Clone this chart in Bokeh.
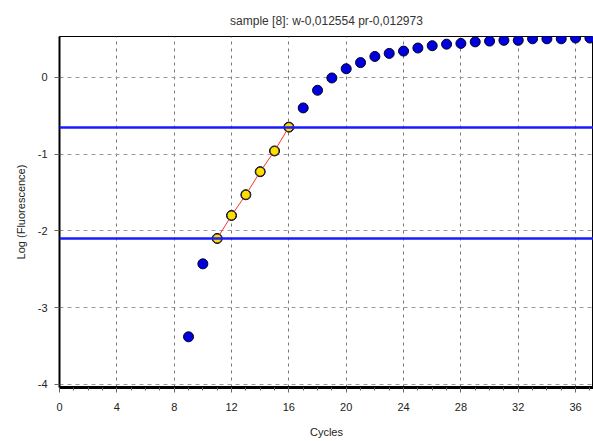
from bokeh.plotting import figure
from bokeh.models import Range1d, FixedTicker, Span, ColumnDataSource
from bokeh.embed import file_html
from bokeh.resources import INLINE

# Data
all_cycles = [9, 10, 11, 12, 13, 14, 15, 16, 17, 18, 19, 20, 21, 22, 23, 24, 25,
              26, 27, 28, 29, 30, 31, 32, 33, 34, 35, 36, 37]
all_logf = [-3.38, -2.43, -2.10, -1.80, -1.53, -1.23, -0.96, -0.65, -0.40, -0.17,
            -0.01, 0.11, 0.19, 0.27, 0.31, 0.34, 0.38, 0.41, 0.43, 0.44, 0.46,
            0.47, 0.48, 0.48, 0.50, 0.50, 0.50, 0.51, 0.51]
fit_cycles = [11, 12, 13, 14, 15, 16]
fit_logf = [-2.10, -1.80, -1.53, -1.23, -0.96, -0.65]
threshold_upper = -0.656
threshold_lower = -2.10
x_ticks = [0, 4, 8, 12, 16, 20, 24, 28, 32, 36]
y_ticks = [-4, -3, -2, -1, 0]
y_tick_labels = ["-4", "-3", "-2", "-1", "0"]
title_text = "sample [8]: w-0,012554 pr-0,012973"
x_label = "Cycles"
y_label = "Log (Fluorescence)"

FONT = "Liberation Sans"

p = figure(width=593, height=441, output_backend="svg", toolbar_location=None,
           x_range=Range1d(0, 37.25), y_range=Range1d(-4.04, 0.53),
           title=title_text)
p.min_border_left = 59
p.min_border_right = 0
p.min_border_top = 36
p.min_border_bottom = 54
p.background_fill_color = "white"
p.border_fill_color = "white"
p.outline_line_color = "black"
p.outline_line_width = 1

p.title.align = "center"
p.title.text_font = FONT
p.title.text_font_size = "12px"
p.title.text_font_style = "normal"
p.title.text_color = "#333333"
p.title.standoff = 17

# axes
p.xaxis.ticker = FixedTicker(ticks=x_ticks, minor_ticks=list(range(0, 38)))
p.yaxis.ticker = FixedTicker(ticks=y_ticks, minor_ticks=[])
p.yaxis.major_label_overrides = {t: s for t, s in zip(y_ticks, y_tick_labels)}
for ax in (p.xaxis[0], p.yaxis[0]):
    ax.major_label_text_font = FONT
    ax.major_label_text_font_size = "11px"
    ax.major_label_text_color = "#222222"
    ax.axis_label_text_font = FONT
    ax.axis_label_text_font_size = "11px"
    ax.axis_label_text_font_style = "normal"
    ax.axis_label_text_color = "#222222"
    ax.axis_line_color = "black"
    ax.major_tick_line_color = "#666666"
    ax.major_tick_in = 0
    ax.major_tick_out = 5
    ax.minor_tick_line_color = "#666666"
    ax.minor_tick_in = 0
    ax.minor_tick_out = 3
p.xaxis.axis_line_width = 3
p.yaxis.axis_line_width = 2
p.xaxis.axis_label = x_label
p.yaxis.axis_label = y_label
p.xaxis.major_label_standoff = 10
p.yaxis.major_label_standoff = 7
p.xaxis.axis_label_standoff = 12
p.yaxis.axis_label_standoff = 8

# grid
p.xgrid.grid_line_color = "#777777"
p.xgrid.grid_line_dash = "3 4"
p.ygrid.grid_line_color = "#999999"
p.ygrid.grid_line_dash = "4 4"
p.xgrid.grid_line_width = 1
p.ygrid.grid_line_width = 1

# threshold lines
for loc in (threshold_upper, threshold_lower):
    p.add_layout(Span(location=loc, dimension="width", line_color="#1a1aff",
                      line_width=2.5))

src_all = ColumnDataSource(dict(x=all_cycles, y=all_logf))
src_fit = ColumnDataSource(dict(x=fit_cycles, y=fit_logf))

p.scatter("x", "y", source=src_all, marker="circle", size=10,
          fill_color="#0000dd", line_color="#000022", line_width=1)
p.line("x", "y", source=src_fit, line_color="#ff3030", line_width=1)
p.scatter("x", "y", source=src_fit, marker="circle", size=9,
          fill_color="#ffdd00", line_color="#222222", line_width=1)

open("out.html", "w").write(file_html(p, INLINE))
